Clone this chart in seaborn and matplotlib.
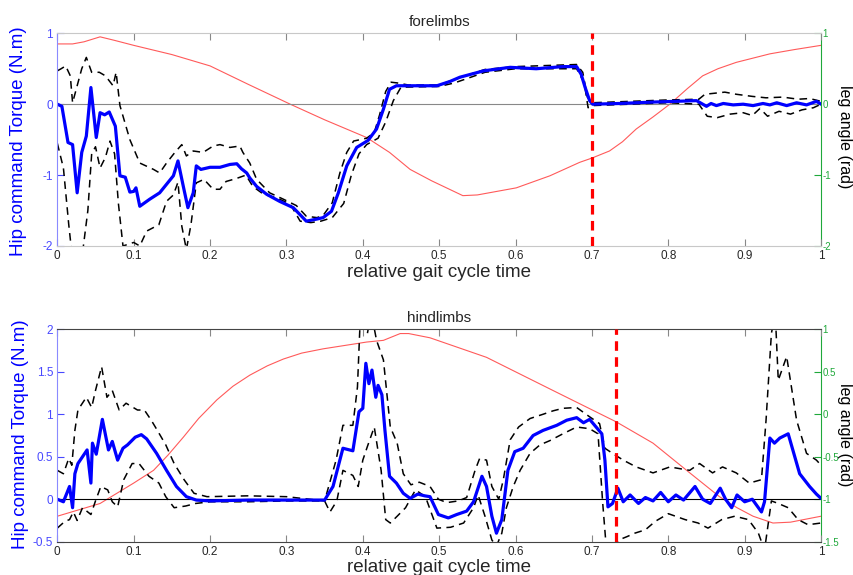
import matplotlib
matplotlib.use("Agg")
import matplotlib.pyplot as plt
import seaborn as sns

# ---- forelimbs data ----
fore_t_mean = [0, 0.006, 0.014, 0.02, 0.026, 0.032, 0.038, 0.044, 0.051, 0.056, 0.062, 0.068, 0.076,
               0.082, 0.089, 0.095, 0.1, 0.103, 0.108, 0.121, 0.134, 0.143, 0.152, 0.158, 0.165, 0.171,
               0.178, 0.182, 0.188, 0.2, 0.213, 0.226, 0.235, 0.241, 0.248, 0.252, 0.261, 0.274, 0.291,
               0.309, 0.326, 0.34, 0.348, 0.359, 0.368, 0.379, 0.392, 0.407, 0.418, 0.427, 0.435, 0.444,
               0.497, 0.514, 0.527, 0.558, 0.593, 0.627, 0.662, 0.68, 0.686, 0.691, 0.697, 0.701, 0.736,
               0.78, 0.837, 0.85, 0.856, 0.863, 0.872, 0.885, 0.898, 0.911, 0.924, 0.933, 0.942, 0.955,
               0.968, 0.981, 0.994, 1.0]
fore_mean = [0, -0.03, -0.54, -0.57, -1.25, -0.68, -0.45, 0.235, -0.47, -0.12, -0.15, -0.11, -0.31,
             -1.01, -1.03, -1.24, -1.23, -1.18, -1.44, -1.34, -1.25, -1.13, -1.01, -0.80, -1.16, -1.46,
             -1.25, -0.87, -0.92, -0.89, -0.89, -0.85, -0.84, -0.91, -0.97, -1.04, -1.16, -1.27, -1.37,
             -1.46, -1.65, -1.62, -1.6, -1.51, -1.25, -0.87, -0.61, -0.51, -0.35, -0.07, 0.21, 0.26,
             0.26, 0.32, 0.38, 0.47, 0.52, 0.50, 0.53, 0.53, 0.42, 0.24, 0.05, 0.0, 0.01,
             0.03, 0.05, -0.03, 0.01, -0.02, 0.01, -0.01, 0.0, -0.02, 0.01, -0.01, 0.02, -0.02,
             0.02, -0.01, 0.04, 0.0]

fore_t_up = [0, 0.005, 0.011, 0.017, 0.02, 0.032, 0.038, 0.045, 0.055, 0.063, 0.073, 0.077, 0.082,
             0.095, 0.108, 0.126, 0.134, 0.143, 0.154, 0.163, 0.169, 0.178, 0.191, 0.204, 0.213, 0.226,
             0.239, 0.243, 0.252, 0.261, 0.278, 0.296, 0.313, 0.326, 0.34, 0.348, 0.36, 0.37, 0.379,
             0.388, 0.405, 0.415, 0.422, 0.43, 0.437, 0.445, 0.46, 0.5, 0.52, 0.56, 0.6, 0.68, 0.688,
             0.694, 0.70, 0.75, 0.8, 0.84, 0.848, 0.874, 0.889, 0.91, 0.928, 0.95, 0.97, 0.985, 1.0]
fore_up = [0.47, 0.5, 0.54, 0.4, 0.02, 0.5, 0.66, 0.45, 0.45, 0.4, 0.26, 0.45, -0.02,
           -0.5, -0.83, -0.92, -0.97, -0.83, -0.68, -0.57, -0.73, -0.66, -0.68, -0.59, -0.57, -0.61,
           -0.59, -0.68, -0.83, -1.06, -1.25, -1.34, -1.43, -1.58, -1.6, -1.57, -1.39, -0.97, -0.68,
           -0.52, -0.48, -0.4, -0.15, 0.18, 0.31, 0.3, 0.27, 0.27, 0.35, 0.49, 0.53, 0.56, 0.45,
           0.1, 0.02, 0.04, 0.06, 0.07, 0.14, 0.17, 0.14, 0.11, 0.09, 0.1, 0.07, 0.08, 0.04]

fore_t_lo = [0, 0.008, 0.015, 0.02, 0.026, 0.033, 0.04, 0.045, 0.05, 0.056, 0.063, 0.069, 0.075, 0.08,
             0.086, 0.1, 0.108, 0.117, 0.133, 0.143, 0.152, 0.158, 0.163, 0.169, 0.175, 0.182, 0.192,
             0.204, 0.213, 0.221, 0.234, 0.247, 0.256, 0.27, 0.287, 0.305, 0.318, 0.332, 0.345, 0.36,
             0.375, 0.385, 0.395, 0.405, 0.42, 0.43, 0.44, 0.45, 0.5, 0.52, 0.56, 0.6, 0.68, 0.69,
             0.695, 0.70, 0.75, 0.8, 0.84, 0.851, 0.864, 0.881, 0.898, 0.91, 0.92, 0.93, 0.945, 0.96,
             0.975, 0.99, 1.0]
fore_lo = [-0.55, -0.9, -1.7, -2.2, -2.3, -2.1, -1.5, -0.7, -0.6, -0.9, -0.75, -0.52, -0.7, -1.4,
           -2.0, -1.95, -2.0, -1.79, -1.7, -1.37, -1.28, -1.1, -1.72, -2.05, -1.7, -1.11, -1.06,
           -1.2, -1.2, -1.09, -1.05, -1.0, -1.16, -1.27, -1.32, -1.41, -1.65, -1.67, -1.65, -1.6,
           -1.4, -1.0, -0.7, -0.57, -0.48, -0.25, 0.05, 0.24, 0.25, 0.3, 0.45, 0.5, 0.5, 0.3,
           -0.05, -0.02, 0.0, 0.02, 0.0, -0.17, -0.19, -0.14, -0.12, -0.16, -0.06, -0.17, -0.1, -0.14,
           -0.08, -0.05, 0.0]

fore_t_angle = [0, 0.02, 0.035, 0.056, 0.075, 0.1, 0.15, 0.2, 0.25, 0.305, 0.35, 0.405, 0.435, 0.462,
                0.49, 0.531, 0.55, 0.601, 0.645, 0.684, 0.7, 0.723, 0.74, 0.758, 0.78, 0.802, 0.825,
                0.845, 0.865, 0.889, 0.933, 0.965, 1.0]
fore_angle = [0.85, 0.85, 0.88, 0.95, 0.9, 0.83, 0.7, 0.54, 0.28, 0.0, -0.22, -0.47, -0.68, -0.92,
              -1.08, -1.29, -1.28, -1.18, -1.01, -0.82, -0.76, -0.66, -0.53, -0.35, -0.18, 0.0, 0.22,
              0.4, 0.5, 0.59, 0.71, 0.77, 0.83]
fore_stance_end = 0.7

# ---- hindlimbs data ----
hind_t_mean = [0, 0.008, 0.016, 0.02, 0.023, 0.027, 0.039, 0.044, 0.046, 0.051, 0.059, 0.067, 0.072,
               0.079, 0.086, 0.092, 0.102, 0.11, 0.117, 0.13, 0.143, 0.156, 0.169, 0.182, 0.2, 0.25,
               0.3, 0.35, 0.361, 0.374, 0.387, 0.395, 0.4, 0.404, 0.408, 0.412, 0.417, 0.42, 0.425,
               0.429, 0.435, 0.444, 0.453, 0.462, 0.472, 0.481, 0.488, 0.499, 0.512, 0.523, 0.536,
               0.545, 0.556, 0.562, 0.569, 0.575, 0.582, 0.59, 0.599, 0.61, 0.623, 0.636, 0.654, 0.667,
               0.68, 0.689, 0.697, 0.713, 0.717, 0.721, 0.727, 0.734, 0.741, 0.75, 0.761, 0.77, 0.78,
               0.79, 0.8, 0.81, 0.82, 0.835, 0.845, 0.855, 0.868, 0.875, 0.883, 0.89, 0.9, 0.91, 0.922,
               0.926, 0.933, 0.939, 0.946, 0.957, 0.972, 0.985, 0.994, 1.0]
hind_mean = [0, -0.03, 0.15, -0.1, 0.3, 0.42, 0.58, 0.19, 0.66, 0.53, 0.94, 0.58, 0.68,
             0.46, 0.6, 0.64, 0.73, 0.76, 0.71, 0.54, 0.34, 0.15, 0.03, -0.01, -0.02, -0.01,
             -0.01, -0.01, 0.15, 0.6, 0.57, 1.03, 1.07, 1.6, 1.36, 1.52, 1.2, 1.34, 1.23,
             0.81, 0.27, 0.19, 0.07, 0.01, 0.06, 0.04, 0.03, -0.18, -0.22, -0.18, -0.14,
             -0.03, 0.27, 0.15, -0.2, -0.4, -0.24, 0.34, 0.56, 0.6, 0.75, 0.81, 0.87, 0.93,
             0.96, 0.9, 0.94, 0.77, 0.46, -0.09, -0.05, 0.13, -0.03, 0.05, -0.05, 0.02, -0.02,
             0.08, -0.03, 0.05, -0.01, 0.15, 0.0, -0.05, 0.13, 0.0, -0.1, 0.05, -0.03, 0.0, -0.15,
             -0.03, 0.72, 0.66, 0.72, 0.77, 0.3, 0.15, 0.06, 0.01]

hind_t_up = [0, 0.008, 0.015, 0.019, 0.023, 0.027, 0.038, 0.045, 0.05, 0.058, 0.065, 0.072, 0.081,
             0.09, 0.105, 0.114, 0.123, 0.131, 0.142, 0.153, 0.166, 0.179, 0.196, 0.25, 0.3, 0.35,
             0.365, 0.374, 0.387, 0.393, 0.397, 0.401, 0.406, 0.411, 0.418, 0.427, 0.436, 0.445, 0.453,
             0.463, 0.474, 0.488, 0.499, 0.51, 0.525, 0.536, 0.547, 0.553, 0.562, 0.569, 0.578, 0.584,
             0.593, 0.604, 0.619, 0.636, 0.649, 0.662, 0.68, 0.697, 0.71, 0.717, 0.727, 0.741, 0.758,
             0.78, 0.802, 0.828, 0.841, 0.858, 0.871, 0.889, 0.906, 0.922, 0.928, 0.935, 0.94, 0.944,
             0.955, 0.968, 0.981, 0.994, 1.0]
hind_up = [0.34, 0.3, 0.48, 0.4, 0.81, 1.05, 1.2, 1.08, 1.28, 1.56, 1.2, 1.28, 1.05,
           1.13, 1.05, 1.05, 0.93, 0.81, 0.64, 0.42, 0.23, 0.07, 0.03, 0.04, 0.03, -0.02,
           0.46, 0.87, 0.87, 1.32, 2.2, 2.3, 1.95, 2.2, 1.87, 1.64, 0.85, 0.66, 0.3,
           0.17, 0.2, 0.15, 0.0, -0.04, -0.02, 0.02, 0.34, 0.48, 0.46, 0.15, 0.0, 0.23,
           0.7, 0.85, 0.95, 1.0, 1.04, 1.07, 1.08, 0.97, 0.89, 0.6, 0.54, 0.46, 0.38,
           0.31, 0.38, 0.34, 0.42, 0.31, 0.38, 0.31, 0.19, 0.23, 0.93, 1.95, 2.2, 1.4,
           1.68, 0.93, 0.54, 0.46, 0.4]

hind_t_lo = [0, 0.01, 0.016, 0.021, 0.026, 0.033, 0.044, 0.05, 0.057, 0.066, 0.072, 0.079, 0.087,
             0.098, 0.107, 0.12, 0.133, 0.142, 0.153, 0.168, 0.181, 0.2, 0.25, 0.3, 0.35, 0.357,
             0.366, 0.374, 0.387, 0.394, 0.4, 0.406, 0.415, 0.424, 0.43, 0.436, 0.445, 0.456, 0.469,
             0.482, 0.497, 0.515, 0.532, 0.545, 0.551, 0.56, 0.569, 0.575, 0.582, 0.588, 0.597, 0.606,
             0.619, 0.632, 0.645, 0.662, 0.68, 0.697, 0.708, 0.714, 0.718, 0.723, 0.735, 0.746, 0.756,
             0.77, 0.783, 0.8, 0.822, 0.839, 0.852, 0.87, 0.887, 0.905, 0.918, 0.926, 0.935, 0.944,
             0.957, 0.97, 0.983, 1.0]
hind_lo = [-0.34, -0.26, -0.24, -0.15, -0.25, -0.1, -0.18, -0.02, 0.15, 0.11, -0.03, -0.09, 0.23,
           0.42, 0.42, 0.27, 0.19, 0.03, -0.1, -0.08, -0.05, -0.03, -0.03, -0.02, -0.02, -0.15,
           -0.02, 0.34, 0.28, 0.15, 0.46, 0.62, 0.85, 0.34, -0.24, -0.28, -0.2, -0.1, 0.11,
           0.03, -0.34, -0.33, -0.28, -0.1, 0.05, -0.2, -0.48, -0.55, -0.4, -0.1, 0.15, 0.34,
           0.54, 0.64, 0.69, 0.77, 0.85, 0.83, 0.77, -0.03, -0.48, -0.6, -0.48, -0.44, -0.4,
           -0.36, -0.26, -0.17, -0.24, -0.28, -0.34, -0.24, -0.2, -0.24, -0.4, -0.6, -0.02, -0.05,
           -0.1, -0.24, -0.3, -0.28]

hind_t_angle = [0, 0.056, 0.1, 0.126, 0.145, 0.165, 0.185, 0.209, 0.23, 0.252, 0.275, 0.296, 0.32,
                0.348, 0.405, 0.427, 0.449, 0.46, 0.488, 0.562, 0.649, 0.732, 0.78, 0.824, 0.867,
                0.89, 0.911, 0.937, 0.96, 1.0]
hind_angle = [-1.2, -1.05, -0.81, -0.66, -0.48, -0.27, -0.05, 0.17, 0.33, 0.46, 0.57, 0.65, 0.72,
              0.77, 0.85, 0.87, 0.95, 0.95, 0.9, 0.67, 0.28, -0.09, -0.34, -0.66, -0.97,
              -1.1, -1.2, -1.28, -1.27, -1.2]
hind_stance_end = 0.732

x_ticks = [0, 0.1, 0.2, 0.3, 0.4, 0.5, 0.6, 0.7, 0.8, 0.9, 1]
x_labels = ["0", "0.1", "0.2", "0.3", "0.4", "0.5", "0.6", "0.7", "0.8", "0.9", "1"]

sns.set_style("white")
plt.rcParams["font.family"] = ["Liberation Sans", "DejaVu Sans"]

BLUE_TXT = "#4848ff"
GREEN = "#1fa83a"


def draw_panel(ax, title, t_mean, mean, t_up, up, t_lo, lo, t_ang, ang, stance_end,
               ylim, yticks, ylabels, ylim2, yticks2, ylabels2, zero_color, frame_color):
    ax2 = ax.twinx()
    sns.lineplot(x=t_ang, y=ang, ax=ax2, color="#ff5a5a", lw=0.8, sort=False)
    ax.axhline(0, color=zero_color, lw=0.8, zorder=1)
    sns.lineplot(x=t_up, y=up, ax=ax, color="black", lw=1.1, sort=False,
                 linestyle=(0, (5, 3.5)))
    sns.lineplot(x=t_lo, y=lo, ax=ax, color="black", lw=1.1, sort=False,
                 linestyle=(0, (5, 3.5)))
    sns.lineplot(x=t_mean, y=mean, ax=ax, color="#0000ff", lw=2.3, sort=False)
    ax.axvline(stance_end, color="#ff0000", lw=2.3, linestyle=(0, (3, 2)), zorder=5)

    ax.set_xlim(0, 1)
    ax.set_ylim(*ylim)
    ax2.set_ylim(*ylim2)
    ax.set_xticks(x_ticks)
    ax.set_xticklabels(x_labels)
    ax.set_yticks(yticks)
    ax.set_yticklabels(ylabels)
    ax2.set_yticks(yticks2)
    ax2.set_yticklabels(ylabels2)
    ax.set_xlabel("relative gait cycle time", fontsize=13.5, labelpad=1)
    ax.set_ylabel("")
    ax2.set_ylabel("")
    ax.set_title(title, fontsize=11, pad=5)

    ax.tick_params(axis="x", direction="in", length=5, top=True, bottom=True,
                   labelsize=8.5, color="#888888", pad=3)
    ax.tick_params(axis="y", direction="in", length=5, labelsize=8.5, colors=BLUE_TXT, pad=3)
    ax2.tick_params(axis="y", direction="in", length=5, labelsize=7, colors=GREEN, pad=1)
    ax2.zorder = 0
    ax.zorder = 1
    ax.patch.set_visible(False)

    for s in ("top", "bottom"):
        ax.spines[s].set_color(frame_color)
        ax.spines[s].set_linewidth(0.8)
    ax.spines["left"].set_color("#8a8aff")
    ax.spines["right"].set_visible(False)
    for s in ("top", "bottom", "left"):
        ax2.spines[s].set_visible(False)
    ax2.spines["right"].set_color(GREEN)
    ax2.spines["right"].set_linewidth(0.8)
    return ax2


fig = plt.figure(figsize=(8.54, 5.75), dpi=100)
ax_top = fig.add_axes([0.0671, 0.5722, 0.8943, 0.3699])
ax_bot = fig.add_axes([0.0671, 0.0579, 0.8943, 0.3694])

draw_panel(ax_top, "forelimbs", fore_t_mean, fore_mean, fore_t_up, fore_up, fore_t_lo, fore_lo,
           fore_t_angle, fore_angle, fore_stance_end,
           (-2, 1), [-2, -1, 0, 1], ["-2", "-1", "0", "1"],
           (-2, 1), [-2, -1, 0, 1], ["-2", "-1", "0", "1"], "#888888", "#c8c8c8")

draw_panel(ax_bot, "hindlimbs", hind_t_mean, hind_mean, hind_t_up, hind_up, hind_t_lo, hind_lo,
           hind_t_angle, hind_angle, hind_stance_end,
           (-0.5, 2), [-0.5, 0, 0.5, 1, 1.5, 2], ["-0.5", "0", "0.5", "1", "1.5", "2"],
           (-1.5, 1), [-1.5, -1, -0.5, 0, 0.5, 1], ["-1.5", "-1", "-0.5", "0", "0.5", "1"],
           "black", "#444444")

# axis titles as figure text
fig.text(19 / 854, 1 - 141 / 575, "Hip command Torque (N.m)", rotation=90, ha="center",
         va="center", fontsize=13.5, color="#0000ff")
fig.text(21 / 854, 1 - 434 / 575, "Hip command Torque (N.m)", rotation=90, ha="center",
         va="center", fontsize=13.5, color="#0000ff")
for yc in (137, 435):
    fig.text(845 / 854, 1 - yc / 575, "leg angle (rad)", rotation=270, ha="center", va="center",
             fontsize=11.5, color="black")

fig.savefig("out.png", dpi=100)
